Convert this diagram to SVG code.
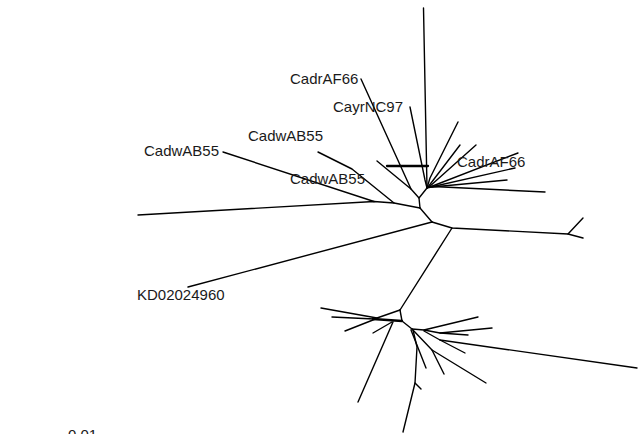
<svg xmlns="http://www.w3.org/2000/svg" width="640" height="434" viewBox="0 0 640 434">
<style>
.br{fill:none;stroke:#000;stroke-width:1.4;stroke-linecap:round;stroke-linejoin:round}
.thick{stroke-width:2.3}
.lb{font-family:"Liberation Sans",Arial,Helvetica,sans-serif;font-size:15px;fill:#1a1a1a}
</style>
<rect width="640" height="434" fill="#fff"/>
<g id="connectors" class="br">
<path d="M423.5,8 L427,188"/>
<path d="M410,107 L425,180 L427,188"/>
<path d="M458,122 L430,178 L427,188"/>
<path d="M460,145 L428,187"/>
<path d="M476,145 L429,187"/>
<path d="M518,153 L430,187"/>
<path d="M515,168 L431,187"/>
<path d="M507,180 L432,187"/>
<path d="M545,192 L433,186.5 L427,188"/>
<path class="thick" d="M387,166 L428,166"/>
<path d="M427,188 L419,198 L420,208"/>
<path d="M361,79 L411,189 L419,198"/>
<path d="M377,161 L411,189"/>
<path d="M420,208 L432,222"/>
<path d="M420,208 L394,203 L374,201.5 L138,215"/>
<path d="M223,152 L374,201.5"/>
<path d="M318,152 L352,169 L394,203"/>
<path d="M432,222 L188,287"/>
<path d="M432,222 L452,228 L568,234"/>
<path d="M583,218 L568,234 L583,238"/>
<path d="M452,228 L400,310"/>
<path d="M400,310 L377,318"/>
<path d="M400,310 L402,321 L412,329"/>
<path class="thick" d="M373,319 L402,321"/>
<path d="M321,308 L377,318"/>
<path d="M332,317 L374,319"/>
<path d="M345,331 L378,318"/>
<path d="M373,333 L392,322"/>
<path d="M358,402 L393,322"/>
<path d="M412,329 L424,330 L478,317"/>
<path d="M424,330 L440,333 L492,328"/>
<path d="M440,333 L468,335"/>
<path d="M424,331 L440,340 L465,353"/>
<path d="M440,340 L637,368"/>
<path d="M412,329 L432,350 L486,383"/>
<path d="M432,350 L444,374"/>
<path d="M411,330 L426,368"/>
<path d="M413,330 L417,347 L415,383 L403,432"/>
<path d="M415,383 L421,389"/>
</g>
<g id="n-cadrAF66-top"><text class="lb" x="290" y="84">CadrAF66</text></g>
<g id="n-cayrNC97"><text class="lb" x="333" y="111.5">CayrNC97</text></g>
<g id="n-cadwAB55-upper"><text class="lb" x="248" y="140.5">CadwAB55</text></g>
<g id="n-cadwAB55-left"><text class="lb" x="144" y="155.5">CadwAB55</text></g>
<g id="n-cadwAB55-lower"><text class="lb" x="290" y="184">CadwAB55</text></g>
<g id="n-cadrAF66-right"><text class="lb" x="457" y="166.5">CadrAF66</text></g>
<g id="n-KD02024960"><text class="lb" x="137" y="300">KD02024960</text></g>
<g id="scale"><text class="lb" x="68" y="440">0.01</text></g>
</svg>
